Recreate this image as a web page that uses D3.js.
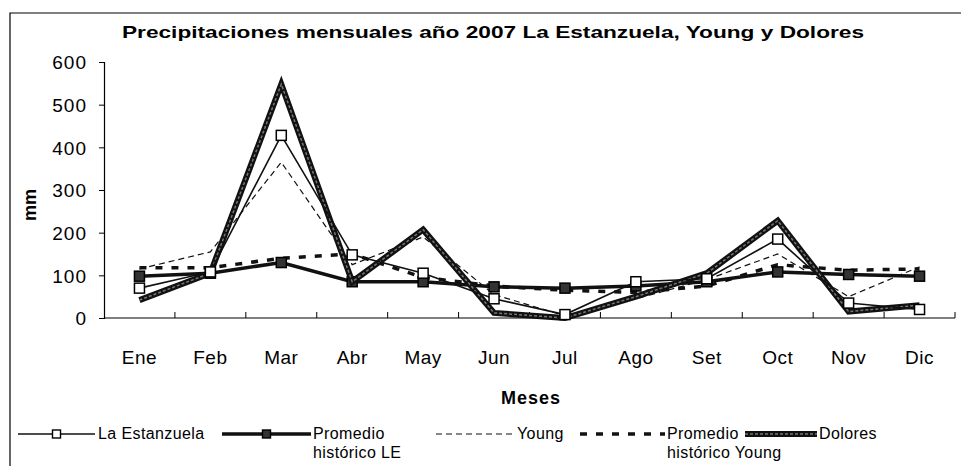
<!DOCTYPE html>
<meta charset="utf-8" />
<script src="https://d3js.org/d3.v7.min.js"></script>
<style>
	body { margin: 0; background: #fff; }
	text { font-family: "Liberation Sans", Arial, sans-serif; fill: #000; }
</style>
<div id="chart"></div>
<script>
	// data
	var meses = ["Ene", "Feb", "Mar", "Abr", "May", "Jun", "Jul", "Ago", "Set", "Oct", "Nov", "Dic"];
	var laEstanzuela = [70, 108, 428, 148, 105, 45, 8, 85, 92, 185, 35, 20];
	var promedioLE = [98, 105, 130, 85, 85, 73, 70, 75, 85, 108, 102, 98];
	var young = [115, 155, 365, 125, 190, 55, 5, 45, 90, 150, 50, 120];
	var promedioYoung = [118, 118, 140, 150, 95, 75, 65, 60, 75, 125, 112, 115];
	var dolores = [42, 105, 548, 85, 207, 12, 0, 50, 105, 228, 15, 30];
	var yTicks = [0, 100, 200, 300, 400, 500, 600];

	var W = 961, H = 466;
	var plot = { left: 104, right: 955, top: 62, bottom: 318 };

	var svg = d3.select("#chart").append("svg")
		.attr("width", W)
		.attr("height", H);

	// outer frame (top and left edges visible)
	svg.append("path")
		.attr("d", "M10,466V13H961")
		.attr("fill", "none")
		.attr("stroke", "#000")
		.attr("stroke-width", 1.2);

	var x = d3.scaleBand().domain(meses).range([plot.left, plot.right]);
	var y = d3.scaleLinear().domain([0, 600]).range([plot.bottom, plot.top]);
	var cx = d => x(d) + x.bandwidth() / 2;

	// Y axis
	var yAxis = svg.append("g")
		.attr("transform", "translate(" + plot.left + ",0)")
		.call(d3.axisLeft(y).tickValues(yTicks).tickSize(5).tickPadding(12));
	yAxis.select(".domain").attr("stroke-width", 1.2);
	yAxis.selectAll("text")
		.style("font-size", "19px")
		.style("letter-spacing", "1px")
		.attr("dy", "0.36em");

	// X axis: ticks between categories, pointing up
	svg.append("line")
		.attr("x1", plot.left).attr("x2", plot.right)
		.attr("y1", plot.bottom).attr("y2", plot.bottom)
		.attr("stroke", "#000").attr("stroke-width", 1.2);
	svg.selectAll(".xtick")
		.data(meses.slice(1).concat(["_end"]))
		.join("line")
		.attr("class", "xtick")
		.attr("x1", (d, i) => plot.left + x.bandwidth() * (i + 1))
		.attr("x2", (d, i) => plot.left + x.bandwidth() * (i + 1))
		.attr("y1", plot.bottom)
		.attr("y2", plot.bottom - 6)
		.attr("stroke", "#000");
	svg.selectAll(".xlabel")
		.data(meses)
		.join("text")
		.attr("class", "xlabel")
		.attr("x", d => cx(d))
		.attr("y", 364)
		.attr("text-anchor", "middle")
		.style("font-size", "19px")
		.style("letter-spacing", "0.5px")
		.text(d => d);

	// Title and axis titles
	svg.append("text")
		.attr("x", 493)
		.attr("y", 38)
		.attr("text-anchor", "middle")
		.attr("textLength", 742)
		.attr("lengthAdjust", "spacingAndGlyphs")
		.style("font-size", "17px")
		.style("font-weight", "bold")
		.text("Precipitaciones mensuales año 2007 La Estanzuela, Young y Dolores");

	svg.append("text")
		.attr("transform", "translate(36,205) rotate(-90)")
		.attr("text-anchor", "middle")
		.style("font-size", "18px")
		.style("font-weight", "bold")
		.text("mm");

	svg.append("text")
		.attr("x", 531)
		.attr("y", 404)
		.attr("text-anchor", "middle")
		.style("font-size", "18px")
		.style("font-weight", "bold")
		.style("letter-spacing", "1px")
		.text("Meses");

	var line = d3.line().x((d, i) => cx(meses[i])).y(d => y(d));

	// series styles
	var series = [
		{ name: "La Estanzuela", values: laEstanzuela, width: 1.6, dash: null, marker: "open" },
		{ name: "Promedio|histórico LE", values: promedioLE, width: 3.5, dash: null, marker: "filled" },
		{ name: "Young", values: young, width: 1.2, dash: "6,4", marker: null },
		{ name: "Promedio|histórico Young", values: promedioYoung, width: 3.5, dash: "7,9", marker: null },
		{ name: "Dolores", values: dolores, width: 6, dash: null, marker: null, dbl: true }
	];

	var drawOrder = [3, 2, 1, 4, 0];
	drawOrder.forEach(function (k) {
		var s = series[k];
		svg.append("path")
			.datum(s.values)
			.attr("d", line)
			.attr("fill", "none")
			.attr("stroke", "#111")
			.attr("stroke-width", s.width)
			.attr("stroke-dasharray", s.dash)
			.attr("stroke-linejoin", "miter");
		if (s.dbl) {
			svg.append("path")
				.datum(s.values)
				.attr("d", line)
				.attr("fill", "none")
				.attr("stroke", "#777")
				.attr("stroke-width", 1.5)
				.attr("stroke-dasharray", "3,2");
		}
		if (s.marker) {
			svg.selectAll(null)
				.data(s.values)
				.join("rect")
				.attr("x", (d, i) => cx(meses[i]) - 5)
				.attr("y", d => y(d) - 5)
				.attr("width", 10)
				.attr("height", 10)
				.attr("fill", s.marker == "open" ? "#fff" : "#333")
				.attr("stroke", "#000")
				.attr("stroke-width", 1.5);
		}
	});

	// legend
	var legendPos = [
		{ x1: 18, x2: 95, tx: 98 },
		{ x1: 222, x2: 311, tx: 313 },
		{ x1: 436, x2: 514, tx: 517 },
		{ x1: 580, x2: 665, tx: 667 },
		{ x1: 745, x2: 817, tx: 819 }
	];
	var ly = 434;
	series.forEach(function (s, k) {
		var p = legendPos[k];
		var g = svg.append("g");
		g.append("line")
			.attr("x1", p.x1).attr("x2", p.x2)
			.attr("y1", ly).attr("y2", ly)
			.attr("stroke", "#111")
			.attr("stroke-width", s.width)
			.attr("stroke-dasharray", s.dash);
		if (s.dbl) {
			g.append("line")
				.attr("x1", p.x1).attr("x2", p.x2)
				.attr("y1", ly).attr("y2", ly)
				.attr("stroke", "#777")
				.attr("stroke-width", 1.5)
				.attr("stroke-dasharray", "3,2");
		}
		if (s.marker) {
			var mx = (p.x1 + p.x2) / 2;
			g.append("rect")
				.attr("x", mx - 4).attr("y", ly - 4)
				.attr("width", 8).attr("height", 8)
				.attr("fill", s.marker == "open" ? "#fff" : "#333")
				.attr("stroke", "#000").attr("stroke-width", 1.4);
		}
		var t = g.append("text")
			.attr("x", p.tx)
			.attr("y", ly + 5)
			.style("font-size", "16px")
			.style("letter-spacing", "0.4px");
		s.name.split("|").forEach(function (part, j) {
			t.append("tspan")
				.attr("x", p.tx)
				.attr("dy", j == 0 ? 0 : 19)
				.text(part);
		});
	});
</script>
